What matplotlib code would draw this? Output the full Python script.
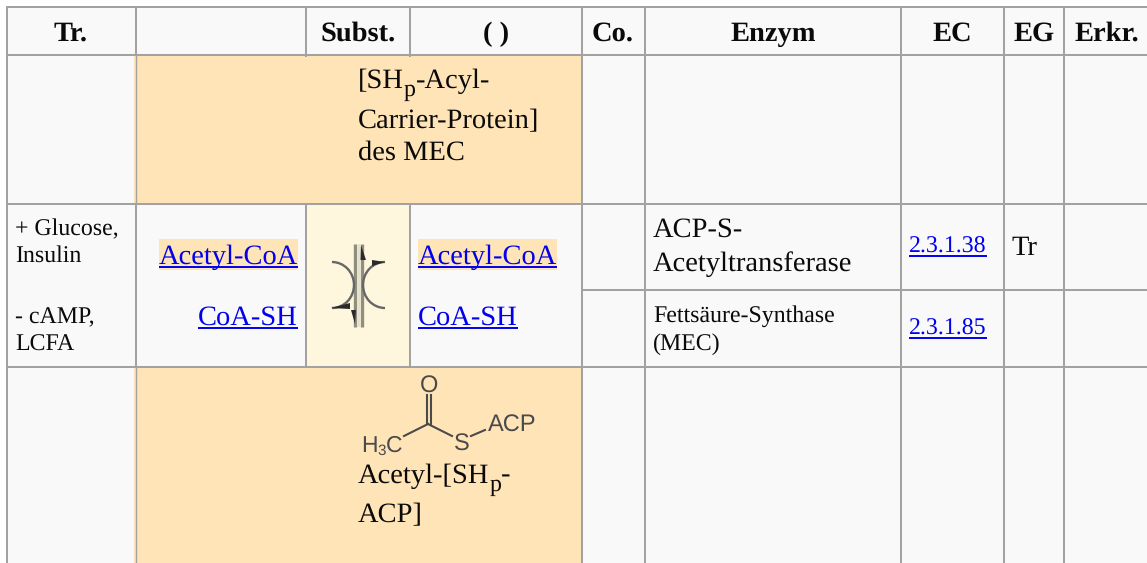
import matplotlib
matplotlib.use('Agg')
import matplotlib.pyplot as plt
from matplotlib.patches import Rectangle, Arc, Polygon

plt.rcParams['font.family'] = ['Liberation Serif', 'DejaVu Sans']
plt.rcParams['text.hinting'] = 'no_hinting'

# -- Table content
headers = ['Tr.', 'Subst.', '( )', 'Co.', 'Enzym', 'EC', 'EG', 'Erkr.']
header_x = [71, 358, 496, 613, 773, 952, 1034, 1107]
effectors = ['+ Glucose,', 'Insulin', '- cAMP,', 'LCFA']
effector_y = [235, 262, 323, 351]
substrates = ['Acetyl-CoA', 'CoA-SH']
substrate_y = [264, 325]
enzyme_top = ['ACP-S-', 'Acetyltransferase']
enzyme_top_y = [237, 271]
enzyme_low = ['Fettsäure-Synthase', '(MEC)']
enzyme_low_y = [322, 350]
ec_numbers = ['2.3.1.38', '2.3.1.85']
ec_y = [253, 335]

# -- Grid of the table (pixels)
col_x = [7, 136, 306, 410, 582, 645, 901, 1004, 1064]
row_y = [7, 55, 204, 367, 563]
split_y = 290
W, H = 1147, 563

grey = '#a2a2a2'
cell = '#f9f9f9'
orange = '#ffe4b7'
light = '#fff6de'
link = '#0000ee'
ink = '#0a0a0a'

big = 20.5
small = 17.2


def run_text(ax, x, y, runs, color=ink, family=None):
    # text pieces one after the other: (string, dy, size)
    r = fig.canvas.get_renderer()
    for s, dy, size in runs:
        t = ax.text(x, y + dy, s, fontsize=size, color=color, va='baseline',
                    ha='left', family=family)
        x = t.get_window_extent(r).x1
    return x


def link_text(ax, x, y, s, size, ha='left', bg=None):
    r = fig.canvas.get_renderer()
    t = ax.text(x, y, s, fontsize=size, color=link, va='baseline', ha=ha, zorder=4)
    bb = t.get_window_extent(r)
    if bg:
        ax.add_patch(Rectangle((bb.x0, y - 25), bb.width, 31, fc=bg, ec='none', zorder=2))
    ax.plot([bb.x0, bb.x1], [y + 3, y + 3], color=link, lw=1.4, zorder=5,
            solid_capstyle='butt')


fig = plt.figure(figsize=(W / 100, H / 100), dpi=100)
ax = fig.add_axes([0, 0, 1, 1])
ax.set_xlim(0, W)
ax.set_ylim(H, 0)
ax.axis('off')

# -- Cell backgrounds
ax.add_patch(Rectangle((col_x[0], row_y[0]), W - col_x[0], H - row_y[0], fc=cell, ec='none'))
for y0, y1 in [(row_y[1], row_y[2]), (row_y[3], row_y[4])]:
    ax.add_patch(Rectangle((col_x[1] - 2, y0), col_x[4] - col_x[1] + 2, y1 - y0, fc=orange, ec='none'))
ax.add_patch(Rectangle((col_x[2], row_y[2]), col_x[3] - col_x[2], row_y[3] - row_y[2],
                       fc=light, ec='none'))

# -- Grid lines
for y in row_y[:4]:
    ax.plot([col_x[0] - 1, W], [y, y], color=grey, lw=1.45, solid_capstyle='butt', zorder=3)
ax.plot([col_x[4], W], [split_y, split_y], color=grey, lw=1.45, solid_capstyle='butt', zorder=3)
for x in [col_x[0], col_x[4], col_x[5], col_x[6], col_x[7], col_x[8]]:
    ax.plot([x, x], [row_y[0], H], color=grey, lw=1.45, solid_capstyle='butt', zorder=3)
# left border of the orange cells is a bit thinner than the rest
ax.plot([col_x[1], col_x[1]], [row_y[0], row_y[1]], color=grey, lw=1.45, solid_capstyle='butt', zorder=3)
ax.plot([col_x[1], col_x[1]], [row_y[2], row_y[3]], color=grey, lw=1.45, solid_capstyle='butt', zorder=3)
for y0, y1 in [(row_y[1], row_y[2]), (row_y[3], row_y[4])]:
    ax.plot([col_x[1] + 0.3, col_x[1] + 0.3], [y0, y1], color=grey, lw=1.0, solid_capstyle='butt', zorder=3)
for x in [col_x[2], col_x[3]]:
    ax.plot([x, x], [row_y[0], row_y[1] + 2], color=grey, lw=1.45, solid_capstyle='butt', zorder=3)
    ax.plot([x, x], [row_y[2], row_y[3]], color=grey, lw=1.45, solid_capstyle='butt', zorder=3)

# -- Header
for s, x in zip(headers, header_x):
    ax.text(x, 41, s, fontsize=big, fontweight='bold', ha='center', va='baseline', color=ink)

# -- Row with [SHp-Acyl-Carrier-Protein]
run_text(ax, 358, 88, [('[SH', 0, big), ('p', 8, small), ('-Acyl-', 0, big)])
ax.text(358, 128, 'Carrier-Protein]', fontsize=big, va='baseline', color=ink)
ax.text(358, 160, 'des MEC', fontsize=big, va='baseline', color=ink)

# -- Row with the reaction
for s, y in zip(effectors, effector_y):
    ax.text(15, y, s, fontsize=small, va='baseline', color=ink)
for i, (s, y) in enumerate(zip(substrates, substrate_y)):
    bg = orange if i == 0 else None
    link_text(ax, 298, y, s, big, ha='right', bg=bg)
    link_text(ax, 418, y, s, big, bg=bg)
for s, y in zip(enzyme_top, enzyme_top_y):
    ax.text(653, y, s, fontsize=big, va='baseline', color=ink)
for s, y in zip(enzyme_low, enzyme_low_y):
    ax.text(653, y, s, fontsize=small, va='baseline', color=ink)
for s, y in zip(ec_numbers, ec_y):
    link_text(ax, 909, y, s, small)
ax.text(1011, 255, 'Tr', fontsize=big, va='baseline', color=ink)

# -- Reaction arrows icon
for x in [355, 362]:
    ax.plot([x, x], [244, 327], color='#8f8f80', lw=2.4, solid_capstyle='butt', zorder=3)
ax.plot([358.5, 358.5], [244, 327], color='#e4e2cc', lw=1.6, solid_capstyle='butt', zorder=3)
ax.add_patch(Arc((332, 285), 44, 46, theta1=-90, theta2=90, ec='#666666', lw=1.7, zorder=3))
ax.add_patch(Arc((385, 285), 44, 46, theta1=90, theta2=270, ec='#666666', lw=1.7, zorder=3))
for pts in [[(331, 308), (350, 303), (350, 309)], [(385, 262), (372, 260), (372, 266)],
            [(361, 245), (360.5, 260), (366, 260)], [(355, 324), (351, 310), (356, 310)]]:
    ax.add_patch(Polygon(pts, fc='#2a2a2a', ec='none', zorder=4))

# -- Structure of acetyl-ACP
chem = '#4a4a4a'
ax.text(429, 393, 'O', fontsize=17, ha='center', va='baseline', color=chem, family='Liberation Sans')
ax.text(462, 451, 'S', fontsize=17, ha='center', va='baseline', color=chem, family='Liberation Sans')
ax.text(488, 432, 'ACP', fontsize=17, ha='left', va='baseline', color=chem, family='Liberation Sans')
run_text(ax, 361, 452, [('H', 0, 16.5), ('3', 3, 11), ('C', 0, 16.5)], color=chem, family='Liberation Sans')
for x0, y0, x1, y1 in [(426.5, 395, 426.5, 424), (431, 395, 431, 424), (428, 424, 404, 436),
                       (428, 424, 452, 436), (471, 436, 485, 430)]:
    ax.plot([x0, x1], [y0, y1], color=chem, lw=1.5, zorder=3)
run_text(ax, 358, 483, [('Acetyl-[SH', 0, big), ('p', 8, small), ('-', 0, big)])
ax.text(358, 522, 'ACP]', fontsize=big, va='baseline', color=ink)

fig.savefig('out.png', dpi=100, facecolor='white')
